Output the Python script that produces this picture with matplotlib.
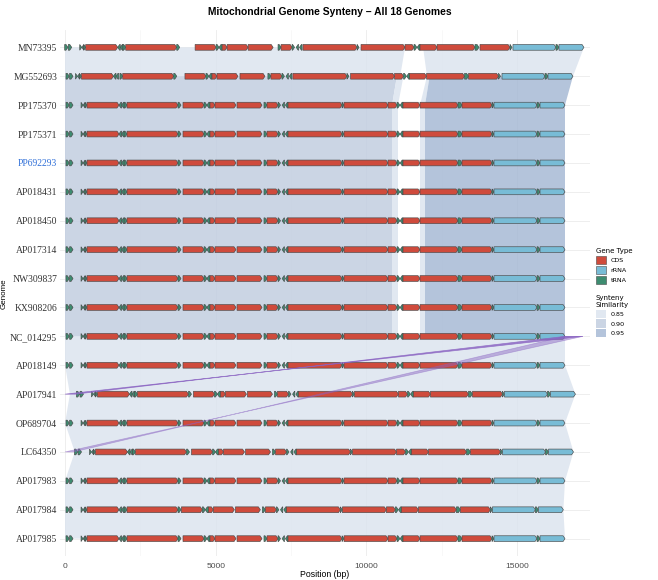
import matplotlib
matplotlib.use('Agg')
import matplotlib.pyplot as plt
from matplotlib.patches import Polygon, Patch

genomes = ['MN73395', 'MG552693', 'PP175370', 'PP175371', 'PP692293', 'AP018431',
           'AP018450', 'AP017314', 'NW309837', 'KX908206', 'NC_014295', 'AP018149',
           'AP017941', 'OP689704', 'LC64350', 'AP017983', 'AP017984', 'AP017985']
highlight = 'PP692293'

# reference gene layout (bp), shared by the collinear genomes
gene_start = [33, 152, 532, 602, 667, 730, 1792, 1878, 1964, 2058, 3750, 3916, 4613, 4710,
              4812, 4978, 5709, 6604, 6704, 7070, 7206, 7315, 7402, 9194, 9260, 10720, 11019,
              11124, 11218, 11782, 13043, 13176, 14172, 14238, 15665, 15765]
gene_end = [141, 266, 597, 667, 730, 1792, 1878, 1964, 2058, 3750, 3850, 4613, 4710, 4812,
            4978, 5675, 6538, 6704, 7070, 7152, 7282, 7402, 9194, 9260, 10720, 11019, 11114,
            11218, 11782, 13043, 13176, 14172, 14238, 15665, 15765, 16594]
gene_type = ['tRNA', 'tRNA', 'tRNA', 'tRNA', 'tRNA', 'CDS', 'tRNA', 'tRNA', 'tRNA', 'CDS',
             'tRNA', 'CDS', 'tRNA', 'tRNA', 'CDS', 'CDS', 'CDS', 'tRNA', 'CDS', 'tRNA', 'tRNA',
             'tRNA', 'CDS', 'tRNA', 'CDS', 'CDS', 'tRNA', 'tRNA', 'CDS', 'CDS', 'tRNA', 'CDS',
             'tRNA', 'rRNA', 'tRNA', 'rRNA']
gene_strand = [1, 1, 1, -1, 1, 1, -1, -1, 1, 1, 1, 1, 1, -1, 1, 1, 1, 1, 1, 1, -1, -1, 1, 1,
               1, 1, 1, -1, 1, 1, 1, 1, 1, 1, 1, 1]

# per-genome shifts of the layout: breakpoints (bp) and offset applied from there on
shift_breaks = {
    'MN73395': [0, 3850, 5700, 6600, 7380, 9220, 13130, 14220],
    'MG552693': [0, 434, 1950, 3850, 5700, 6600, 7380, 9220, 14220],
    'AP017941': [0],
    'LC64350': [0],
    'AP017984': [0, 3850],
}
shift_values = {
    'MN73395': [-43, 402, 369, 467, 499, 564, 597, 629],
    'MG552693': [0, -184, -141, 65, 98, 130, 163, 217, 265],
    'AP017941': [347],
    'LC64350': [282],
    'AP017984': [0, -54],
}

genome_first = {'AP017941': 163, 'LC64350': 326}
genome_last = {'MN73395': 17224, 'MG552693': 16859, 'AP017941': 16941,
               'LC64350': 16876, 'AP017984': 16540}
default_last = 16594

# synteny ribbons: (top x0, top x1, bottom x0, bottom x1, similarity)
pair0_blocks = [(0, 11287, 0, 11124, 0.85), (11884, 17224, 12014, 16859, 0.85)]
pair1_blocks = [(0, 11016, 0, 10853, 0.90), (11016, 11233, 10853, 11052, 0.85),
                (12014, 12102, 11782, 11948, 0.85), (12102, 16859, 11948, 16594, 0.95)]
mid_blocks = [(0, 10853, 0, 10853, 0.90), (10853, 11052, 10853, 11052, 0.85),
              (11782, 11948, 11782, 11948, 0.85), (11948, 16594, 11948, 16594, 0.95)]
mid_pairs = [2, 3, 4, 5, 6, 7, 8, 9]
low_pairs = [10, 11, 12, 13, 14, 15, 16]
low_sim = 0.85

# inverted links: (genome, x0, x1, target genome, x0, x1, alpha)
inv_links = [('AP017941', 0, 347, 'NC_014295', 16594, 17190, 0.8),
             ('LC64350', 0, 282, 'NC_014295', 16594, 17190, 0.45)]

type_colors = {'CDS': '#cf4b3c', 'rRNA': '#78bcd6', 'tRNA': '#3d8c70'}
sim_colors = {0.85: '#dce4ef', 0.90: '#c2cee0', 0.95: '#a7bad5'}


def shift_for(name, pos):
    s = 0
    for b, v in zip(shift_breaks.get(name, [0]), shift_values.get(name, [0])):
        if pos >= b:
            s = v
    return s


def arrow(s, e, y, strand, h=0.2, ah=65):
    ah = min(ah, e - s)
    if strand > 0:
        return [(s, y - h/2), (e - ah, y - h/2), (e, y), (e - ah, y + h/2), (s, y + h/2)]
    return [(e, y - h/2), (s + ah, y - h/2), (s, y), (s + ah, y + h/2), (e, y + h/2)]


def ribbon(ax, y0, y1, t0, t1, b0, b1, color, alpha=0.85):
    ax.add_patch(Polygon([(t0, y0), (t1, y0), (b1, y1), (b0, y1)], closed=True,
                         facecolor=color, edgecolor='none', alpha=alpha, zorder=1))


fig = plt.figure(figsize=(6.58, 5.8), dpi=100)
ax = fig.add_axes([60/658, 1 - 556/580, (590 - 60)/658, (556 - 30)/580])
ax.set_xlim(-166, 17424)
ax.set_ylim(len(genomes) - 0.4, -0.6)

for x in [0, 5000, 10000, 15000]:
    ax.axvline(x, color='#ebebeb', lw=0.6, zorder=0)
for x in [2500, 7500, 12500, 17500]:
    ax.axvline(x, color='#f4f4f4', lw=0.4, zorder=0)
for i in range(len(genomes)):
    ax.axhline(i, color='#ebebeb', lw=0.6, zorder=0)

# ribbons
for b in pair0_blocks:
    ribbon(ax, 0, 1, b[0], b[1], b[2], b[3], sim_colors[b[4]])
for b in pair1_blocks:
    ribbon(ax, 1, 2, b[0], b[1], b[2], b[3], sim_colors[b[4]])
for p in mid_pairs:
    for b in mid_blocks:
        ribbon(ax, p, p + 1, b[0], b[1], b[2], b[3], sim_colors[b[4]])
for p in low_pairs:
    g0, g1 = genomes[p], genomes[p + 1]
    ribbon(ax, p, p + 1, genome_first.get(g0, 0), genome_last.get(g0, default_last),
           genome_first.get(g1, 0), genome_last.get(g1, default_last), sim_colors[low_sim])

# genes
for i, g in enumerate(genomes):
    for s, e, t, st in zip(gene_start, gene_end, gene_type, gene_strand):
        d = shift_for(g, s)
        ax.add_patch(Polygon(arrow(s + d, e + d, i, st), closed=True,
                             facecolor=type_colors[t], edgecolor='#4a4a4a',
                             lw=0.45, zorder=3))

# inverted links
for g0, a0, a1, g1, c0, c1, al in inv_links:
    y0, y1 = genomes.index(g0), genomes.index(g1)
    ax.add_patch(Polygon([(a0, y0), (a1, y0), (c0, y1), (c1, y1)], closed=True,
                         facecolor='#8a63c2', edgecolor='#8a63c2', lw=0.5,
                         alpha=al, zorder=4))

for sp in ax.spines.values():
    sp.set_visible(False)
ax.set_xticks([0, 5000, 10000, 15000])
ax.set_xticklabels(['0', '5000', '10000', '15000'], fontsize=6, color='#4d4d4d',
                   family='Liberation Sans')
ax.set_yticks(range(len(genomes)))
ax.set_yticklabels(genomes, fontsize=6.9, family='Liberation Serif', color='#333333')
for lab in ax.get_yticklabels():
    if lab.get_text() == highlight:
        lab.set_color('#2f6fd8')
ax.tick_params(axis='y', length=0, pad=2)
ax.tick_params(axis='x', length=0, pad=5)
ax.set_xlabel('Position (bp)', fontsize=6.3, family='Liberation Sans', labelpad=0)
fig.text(4/658, 1 - 294/580, 'Genome', rotation=90, fontsize=5.8,
         family='Liberation Sans', ha='center', va='center')

fig.text(330/658, 1 - 12/580, 'Mitochondrial Genome Synteny \u2013 All 18 Genomes',
         fontsize=7.4, fontweight='bold', family='Liberation Sans', ha='center', va='center')

# legends
gene_handles = [Patch(facecolor=type_colors[k], edgecolor='#4a4a4a', lw=0.4, label=k)
                for k in ['CDS', 'rRNA', 'tRNA']]
fig.legend(handles=gene_handles, title='Gene Type', loc='upper left',
           bbox_to_anchor=(596/658, 1 - 248/580), frameon=False, fontsize=4.6,
           title_fontsize=5, handlelength=1.6, handleheight=1.6,
           labelspacing=0.3, handletextpad=0.7, borderaxespad=0, borderpad=0,
           alignment='left')
sim_handles = [Patch(facecolor=sim_colors[k], alpha=0.85, edgecolor='none',
                     label=f'{k:.2f}') for k in [0.85, 0.90, 0.95]]
fig.legend(handles=sim_handles, title='Synteny\nSimilarity', loc='upper left',
           bbox_to_anchor=(596/658, 1 - 295/580), frameon=False, fontsize=4.6,
           title_fontsize=5, handlelength=1.6, handleheight=1.6,
           labelspacing=0.25, handletextpad=0.7, borderaxespad=0, borderpad=0,
           alignment='left')

fig.savefig('out.png', dpi=100)
